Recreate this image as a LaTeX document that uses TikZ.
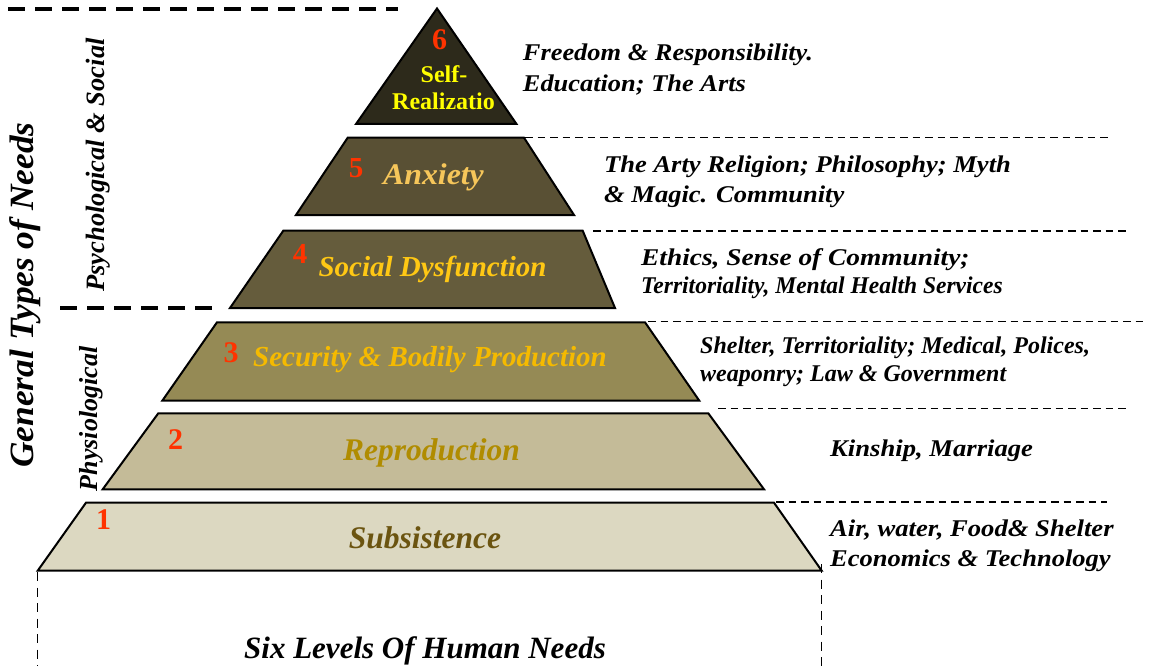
\documentclass[tikz,border=0pt]{standalone}
\usepackage{fontspec}
\setmainfont{Liberation Serif}
\definecolor{cSix}{HTML}{2D2A1B}
\definecolor{cFive}{HTML}{595034}
\definecolor{cFour}{HTML}{655C3C}
\definecolor{cThree}{HTML}{958A55}
\definecolor{cTwo}{HTML}{C4BB98}
\definecolor{cOne}{HTML}{DCD8C1}
\definecolor{numred}{HTML}{FF3300}
\definecolor{tyellow}{HTML}{FFFF00}
\definecolor{tanx}{HTML}{F6C65A}
\definecolor{tgold}{HTML}{FFC814}
\definecolor{tsec}{HTML}{F5BA00}
\definecolor{trep}{HTML}{B08C00}
\definecolor{tsub}{HTML}{6B5410}
\newcommand{\sxx}[2]{\scalebox{#1}[1]{#2}}
\newcommand{\fs}[1]{\fontsize{#1}{#1}\selectfont}
\begin{document}
\begin{tikzpicture}[x=1pt,y=-1pt,
  levelshape/.style={draw=black,line width=2pt,line join=miter},
  num/.style={anchor=base,inner sep=0pt,text=numred,font=\bfseries},
  lab/.style={anchor=base,inner sep=0pt,font=\bfseries\itshape},
  note/.style={anchor=base west,inner sep=0pt,font=\fs{24}\bfseries\itshape},
  side/.style={anchor=base,inner sep=0pt,rotate=90,font=\bfseries\itshape},
  thickdash/.style={line width=3.5pt,dash pattern=on 17pt off 10pt},
  thindash/.style={line width=1.2pt,dash pattern=on 7.5pt off 5pt},
  vdash/.style={line width=1pt,dash pattern=on 9pt off 6.5pt}]
\useasboundingbox (0,0) rectangle (1149,666);

% pyramid levels
\filldraw[levelshape,fill=cSix] (437,8.5) -- (516.5,124) -- (356,124) -- cycle;
\filldraw[levelshape,fill=cFive] (347.7,137.7) -- (524,137.7) -- (574,215) -- (296,215) -- cycle;
\filldraw[levelshape,fill=cFour] (283.3,230.7) -- (582.7,230.7) -- (615,308) -- (230,308) -- cycle;
\filldraw[levelshape,fill=cThree] (217,322.3) -- (645,322.3) -- (699.3,400.7) -- (162.3,400.7) -- cycle;
\filldraw[levelshape,fill=cTwo] (158.3,413.3) -- (708.3,413.3) -- (764,489.3) -- (102.7,489.3) -- cycle;
\filldraw[levelshape,fill=cOne] (86,502.7) -- (774,502.7) -- (821.7,570.7) -- (37.7,570.7) -- cycle;

% dashed guide lines
\draw[thickdash] (8,9) -- (398,9);
\draw[thickdash] (60,308) -- (215,308);
\draw[thindash] (525,137.5) -- (1108,137.5);
\draw[thindash] (593,231) -- (1128,231);
\draw[thindash] (648,321.5) -- (1143,321.5);
\draw[thindash] (718,408.3) -- (1128,408.3);
\draw[thindash] (776,502) -- (1107,502);
\draw[vdash] (37.7,572) -- (37.7,666);
\draw[vdash] (821.7,564) -- (821.7,666);

% level numbers
\node[num,font=\fs{30}\bfseries] (n6) at (439.5,50) {6};
\node[num,font=\fs{29}\bfseries] (n5) at (356,177.5) {5};
\node[num,font=\fs{29}\bfseries] (n4) at (300,263.5) {4};
\node[num,font=\fs{30}\bfseries] (n3) at (231,362) {3};
\node[num,font=\fs{30}\bfseries] (n2) at (175.5,449) {2};
\node[num,font=\fs{30}\bfseries] (n1) at (103.5,529) {1};

% level labels
\node[lab,font=\fs{24}\bfseries,text=tyellow] (l6a) at (444,82.7) {Self-};
\node[lab,font=\fs{24}\bfseries,text=tyellow] (l6b) at (443.5,109.3) {Realizatio};
\node[lab,font=\fs{30}\bfseries\itshape,text=tanx] (l5) at (433.5,185) {\sxx{1.06}{Anxiety}};
\node[lab,font=\fs{29}\bfseries\itshape,text=tgold] (l4) at (432.5,276.7) {Social Dysfunction};
\node[lab,font=\fs{29}\bfseries\itshape,text=tsec] (l3) at (430,366.7) {Security \& Bodily Production};
\node[lab,font=\fs{31.5}\bfseries\itshape,text=trep] (l2) at (431.5,460) {Reproduction};
\node[lab,font=\fs{31.5}\bfseries\itshape,text=tsub] (l1) at (425,548.3) {Subsistence};

% right-hand notes
\node[note] (r6a) at (522.7,60.7) {\sxx{1.10}{Freedom \& Responsibility.}};
\node[note] (r6b) at (522.7,91.7) {\sxx{1.10}{Education; The Arts}};
\node[note] (r5a) at (604,172.3) {\sxx{1.105}{The Arty Religion; Philosophy; Myth}};
\node[note] (r5b) at (604,202.7) {\sxx{1.105}{\& Magic. Community}};
\node[note] (r4a) at (641,265) {\sxx{1.14}{Ethics, Sense of Community;}};
\node[note] (r4b) at (641,293.3) {\sxx{0.98}{Territoriality, Mental Health Services}};
\node[note] (r3a) at (700,353) {Shelter, Territoriality; Medical, Polices,};
\node[note] (r3b) at (700,381.7) {weaponry; Law \& Government};
\node[note] (r2) at (830,456.7) {\sxx{1.11}{Kinship, Marriage}};
\node[note] (r1a) at (830,536) {\sxx{1.11}{Air, water, Food\& Shelter}};
\node[note] (r1b) at (830,566.7) {\sxx{1.105}{Economics \& Technology}};

% side titles
\node[side,font=\fs{34}\bfseries\itshape] (gen) at (33,295) {\sxx{1.04}{General Types of Needs}};
\node[side,font=\fs{26.5}\bfseries\itshape] (psy) at (104,165) {Psychological \& Social};
\node[side,font=\fs{26}\bfseries\itshape] (phy) at (97,419) {Physiological};

% bottom title
\node[lab,font=\fs{31}\bfseries\itshape] (title) at (425,658) {Six Levels Of Human Needs};
\end{tikzpicture}
\end{document}
